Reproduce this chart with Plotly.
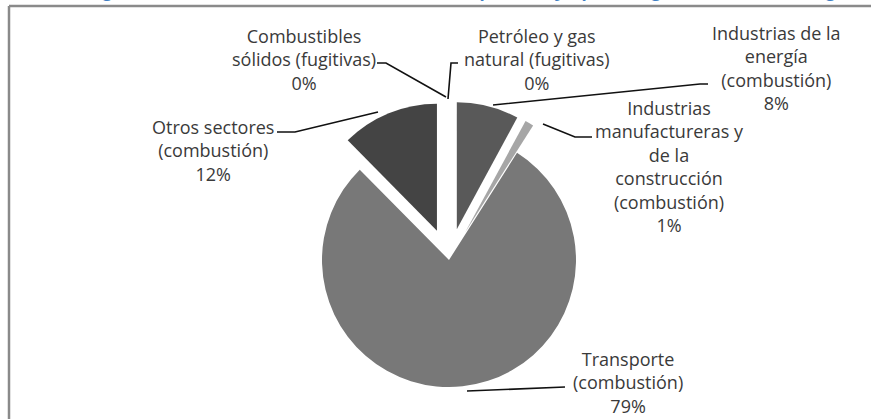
import plotly.graph_objects as go

# ---- data ----
categorias = [
    "Industrias de la energía (combustión)",
    "Industrias manufactureras y de la construcción (combustión)",
    "Transporte (combustión)",
    "Otros sectores (combustión)",
    "Combustibles sólidos (fugitivas)",
    "Petróleo y gas natural (fugitivas)",
]
etiquetas = [
    "Industrias de la<br>energía<br>(combustión)",
    "Industrias<br>manufactureras y<br>de la<br>construcción<br>(combustión)",
    "Transporte<br>(combustión)",
    "Otros sectores<br>(combustión)",
    "Combustibles<br>sólidos (fugitivas)",
    "Petróleo y gas<br>natural (fugitivas)",
]
porcentajes = [7.9, 1.1, 78.6, 12.4, 0.0, 0.0]
separacion = [0.25, 0.25, 0.0, 0.25, 0.25, 0.25]
colores = ["#595959", "#a6a6a6", "#787878", "#444444", "#2f2f2f", "#8c8c8c"]

titulo = "Figura 6. Distribución de las emisiones de GEI [porcentaje] por categoría del sector energía"

W, H = 871, 419


def X(px):
    return px / W


def Y(py):
    return 1 - py / H


fig = go.Figure()
fig.add_trace(go.Pie(
    labels=categorias,
    values=porcentajes,
    pull=separacion,
    sort=False,
    direction="clockwise",
    rotation=0,
    marker=dict(colors=colores, line=dict(width=0)),
    textinfo="none",
    hoverinfo="label+percent",
    showlegend=False,
    domain=dict(x=[X(290.25), X(607.75)], y=[Y(418.75), Y(101.25)]),
))

# label placement (pixel centres) and leader lines
pos_etiquetas = [(776, 68), (669, 167), (628, 382), (213, 150), (304, 59), (537, 59)]
guias = [
    [(493, 105), (700, 84), (708, 84)],
    [(543, 124), (575, 137), (592, 137)],
    [(467, 391), (565, 387)],
    [(378, 112), (295, 132), (277, 132)],
    [(446, 97), (386, 63), (377, 63)],
    [(448, 99), (451, 63), (458, 63)],
]

annotations = []
shapes = []
for txt, val, (cx, cy) in zip(etiquetas, porcentajes, pos_etiquetas):
    annotations.append(dict(
        x=X(cx), y=Y(cy), xref="paper", yref="paper",
        xanchor="center", yanchor="middle", align="center",
        text=f"{txt}<br>{round(val):.0f}%", showarrow=False,
        font=dict(family="Open Sans", size=18, color="#3a3a3a"),
    ))
for pts in guias:
    d = "M " + " L ".join(f"{X(a)},{Y(b)}" for a, b in pts)
    shapes.append(dict(type="path", path=d, xref="paper", yref="paper",
                       line=dict(color="#111111", width=1.6)))

# frame (only top and left edges visible)
shapes.append(dict(type="line", xref="paper", yref="paper", x0=X(9), y0=Y(6), x1=X(875), y1=Y(6),
                   line=dict(color="#8a8a8a", width=2.5)))
shapes.append(dict(type="line", xref="paper", yref="paper", x0=X(9), y0=Y(6), x1=X(9), y1=Y(425),
                   line=dict(color="#8a8a8a", width=2.5)))

# title mostly cut off at the top
annotations.append(dict(
    x=X(470), y=Y(3), xref="paper", yref="paper", xanchor="center", yanchor="bottom",
    text=f"<b>{titulo}</b>", showarrow=False, borderpad=0,
    font=dict(family="Open Sans", size=17, color="#3f7fc4"),
))

fig.update_layout(
    width=W, height=H,
    margin=dict(l=0, r=0, t=0, b=0),
    paper_bgcolor="white", plot_bgcolor="white",
    annotations=annotations, shapes=shapes,
)

fig.write_html("out.html", config={"displayModeBar": False},
               post_script="document.body.style.margin='0px';")
